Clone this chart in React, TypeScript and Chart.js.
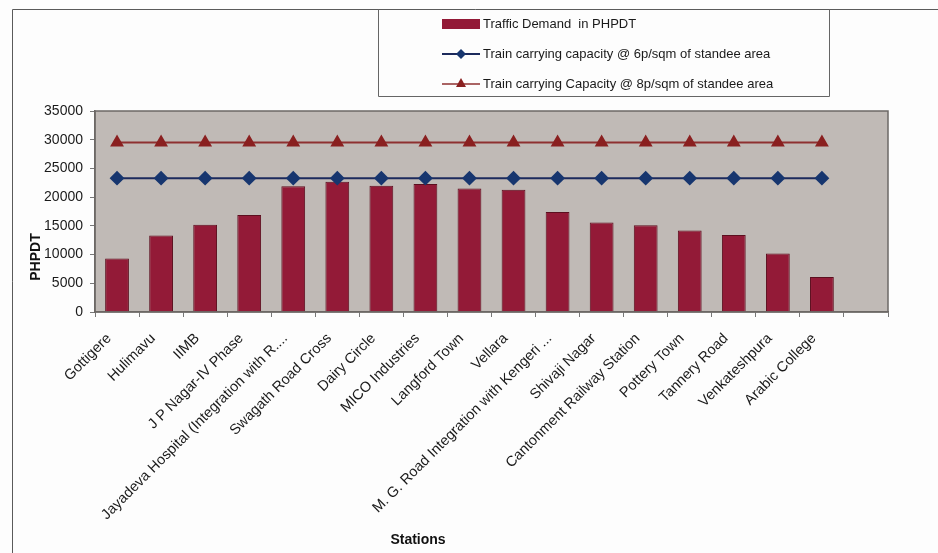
import React, { useEffect, useRef } from "react";
import { Chart, registerables } from "chart.js";

Chart.register(...registerables);

const stations: string[] = [
  "Gottigere",
  "Hulimavu",
  "IIMB",
  "J P Nagar-IV Phase",
  "Jayadeva Hospital (Integration with R....",
  "Swagath Road Cross",
  "Dairy Circle",
  "MICO Industries",
  "Langford Town",
  "Vellara",
  "M. G. Road Integration with Kengeri ...",
  "Shivaji Nagar",
  "Cantonment Railway Station",
  "Pottery Town",
  "Tannery Road",
  "Venkateshpura",
  "Arabic College",
  "",
];

const trafficDemand: (number | null)[] = [
  9300, 13300, 15200, 16900, 21900, 22700, 22000, 22300, 21500, 21300,
  17400, 15600, 15100, 14200, 13400, 10200, 6100, null,
];

const capacity6p: (number | null)[] = [
  23300, 23300, 23300, 23300, 23300, 23300, 23300, 23300, 23300, 23300,
  23300, 23300, 23300, 23300, 23300, 23300, 23300, null,
];

const capacity8p: (number | null)[] = [
  29500, 29500, 29500, 29500, 29500, 29500, 29500, 29500, 29500, 29500,
  29500, 29500, 29500, 29500, 29500, 29500, 29500, null,
];

const yMin = 0;
const yMax = 35000;
const yStep = 5000;

const seriesNames: string[] = [
  "Traffic Demand  in PHPDT",
  "Train carrying capacity @ 6p/sqm of standee area",
  "Train carrying Capacity @ 8p/sqm of standee area",
];

const xTitle = "Stations";
const yTitle = "PHPDT";

const FONT = "'Liberation Sans', Arial, Helvetica, sans-serif";
const BAR_FILL = "#931a37";
const BAR_EDGE = "#5c0f1f";
const LINE6 = "#1c2a5c";
const POINT6 = "#17366f";
const LINE8 = "#8e3030";
const POINT8 = "#8a2020";
const PLOT_BG = "#c0bab6";

const decorPlugin = {
  id: "decor",
  beforeDraw(chart: any) {
    const { ctx, chartArea } = chart;
    ctx.save();
    ctx.fillStyle = PLOT_BG;
    ctx.fillRect(
      chartArea.left,
      chartArea.top,
      chartArea.right - chartArea.left,
      chartArea.bottom - chartArea.top
    );
    ctx.restore();
  },
  afterDraw(chart: any) {
    const { ctx, chartArea } = chart;
    ctx.save();
    // plot border
    ctx.strokeStyle = "#6c6866";
    ctx.lineWidth = 1.5;
    ctx.strokeRect(
      chartArea.left,
      chartArea.top,
      chartArea.right - chartArea.left,
      chartArea.bottom - chartArea.top
    );

    // outer frame (top and left)
    ctx.strokeStyle = "#5a5a5a";
    ctx.lineWidth = 1;
    ctx.beginPath();
    ctx.moveTo(12.5, 553);
    ctx.lineTo(12.5, 9.5);
    ctx.lineTo(938, 9.5);
    ctx.stroke();

    // legend box
    ctx.strokeStyle = "#666";
    ctx.beginPath();
    ctx.moveTo(378.5, 9.5);
    ctx.lineTo(378.5, 96.5);
    ctx.lineTo(829.5, 96.5);
    ctx.lineTo(829.5, 9.5);
    ctx.stroke();

    const ds = chart.data.datasets;
    ctx.font = `13px ${FONT}`;
    ctx.textBaseline = "middle";
    ctx.textAlign = "left";
    ctx.fillStyle = "#1a1a1a";

    // item 1: bar
    ctx.fillStyle = BAR_FILL;
    ctx.fillRect(442, 19, 38, 10);
    ctx.fillStyle = "#1a1a1a";
    ctx.fillText(ds[0].label, 483, 24);

    // item 2: line with diamond
    const y2 = 54;
    ctx.strokeStyle = LINE6;
    ctx.lineWidth = 2;
    ctx.beginPath();
    ctx.moveTo(442, y2);
    ctx.lineTo(480, y2);
    ctx.stroke();
    ctx.fillStyle = POINT6;
    ctx.beginPath();
    ctx.moveTo(461, y2 - 5);
    ctx.lineTo(466, y2);
    ctx.lineTo(461, y2 + 5);
    ctx.lineTo(456, y2);
    ctx.closePath();
    ctx.fill();
    ctx.fillStyle = "#1a1a1a";
    ctx.fillText(ds[1].label, 483, y2);

    // item 3: line with triangle
    const y3 = 84;
    ctx.strokeStyle = LINE8;
    ctx.lineWidth = 1.5;
    ctx.beginPath();
    ctx.moveTo(442, y3);
    ctx.lineTo(480, y3);
    ctx.stroke();
    ctx.fillStyle = POINT8;
    ctx.beginPath();
    ctx.moveTo(461, y3 - 6);
    ctx.lineTo(466, y3 + 3);
    ctx.lineTo(456, y3 + 3);
    ctx.closePath();
    ctx.fill();
    ctx.fillStyle = "#1a1a1a";
    ctx.fillText(ds[2].label, 483, y3);

    // axis titles
    ctx.font = `bold 14px ${FONT}`;
    ctx.fillStyle = "#111";
    ctx.textAlign = "center";
    ctx.fillText(xTitle, 418, 540);
    ctx.save();
    ctx.translate(36, 257);
    ctx.rotate(-Math.PI / 2);
    ctx.fillText(yTitle, 0, 0);
    ctx.restore();

    ctx.restore();
  },
};

export default function App() {
  const canvasRef = useRef<HTMLCanvasElement | null>(null);

  useEffect(() => {
    const canvas = canvasRef.current;
    if (!canvas) return;
    const chart = new Chart(canvas, {
      type: "bar",
      data: {
        labels: stations,
        datasets: [
          {
            type: "bar",
            label: seriesNames[0],
            data: trafficDemand,
            backgroundColor: BAR_FILL,
            borderColor: BAR_EDGE,
            borderWidth: 1,
            barPercentage: 0.54,
            categoryPercentage: 1,
            order: 2,
          },
          {
            type: "line",
            label: seriesNames[1],
            data: capacity6p,
            borderColor: LINE6,
            backgroundColor: POINT6,
            borderWidth: 2,
            pointStyle: "rectRot",
            pointRadius: 6,
            pointBackgroundColor: POINT6,
            pointBorderColor: POINT6,
            spanGaps: false,
            order: 0,
          },
          {
            type: "line",
            label: seriesNames[2],
            data: capacity8p,
            borderColor: LINE8,
            backgroundColor: POINT8,
            borderWidth: 2,
            pointStyle: "triangle",
            pointRadius: 6,
            pointBackgroundColor: POINT8,
            pointBorderColor: POINT8,
            spanGaps: false,
            order: 1,
          },
        ],
      },
      options: {
        responsive: false,
        animation: false,
        devicePixelRatio: 1,
        layout: { padding: { top: 111, right: 50, left: 0, bottom: 0 } },
        plugins: {
          legend: { display: false },
          tooltip: { enabled: false },
          title: { display: false },
        },
        scales: {
          x: {
            type: "category",
            offset: true,
            grid: {
              offset: true,
              drawOnChartArea: false,
              drawTicks: true,
              tickLength: 5,
              color: "#777",
            },
            border: { display: true, color: "#6c6866", width: 1.5 },
            ticks: {
              autoSkip: false,
              minRotation: 45,
              maxRotation: 45,
              color: "#1a1a1a",
              padding: 13,
              labelOffset: -8,
              font: { size: 14.5, family: FONT },
            },
            afterFit(scale: any) {
              scale.height = 553 - 312;
            },
          },
          y: {
            type: "linear",
            min: yMin,
            max: yMax,
            grid: {
              drawOnChartArea: false,
              drawTicks: true,
              tickLength: 5,
              color: "#777",
            },
            border: { display: true, color: "#6c6866", width: 1.5 },
            ticks: {
              stepSize: yStep,
              color: "#1a1a1a",
              padding: 7,
              font: { size: 14, family: FONT },
              callback: (v: any) => String(v),
            },
            afterFit(scale: any) {
              scale.width = 95;
            },
          },
        },
      },
      plugins: [decorPlugin],
    });
    return () => chart.destroy();
  }, []);

  return (
    <div
      style={{
        position: "absolute",
        left: 0,
        top: 0,
        width: 938,
        height: 553,
        background: "#fdfdfd",
      }}
    >
      <canvas ref={canvasRef} width={938} height={553} />
    </div>
  );
}
